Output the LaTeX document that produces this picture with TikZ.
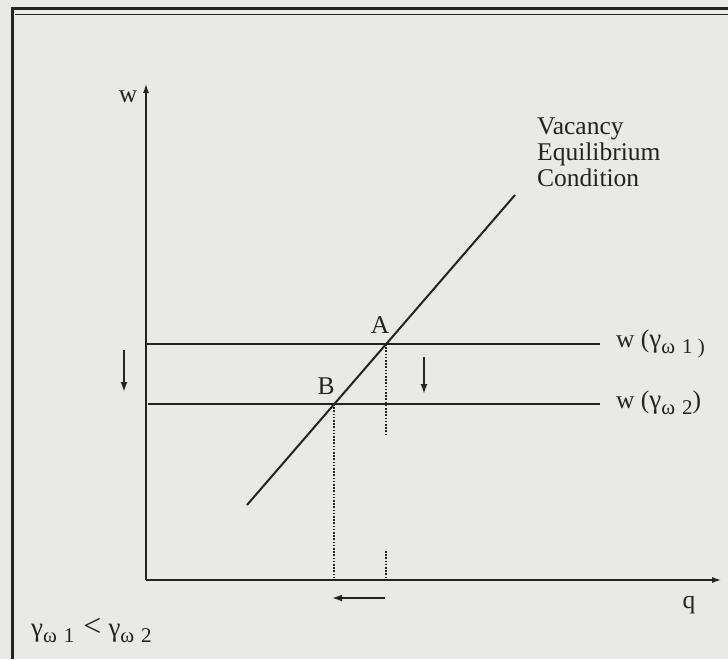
\documentclass[tikz,border=0pt]{standalone}
\usepackage{fontspec}
\setmainfont{Liberation Serif}
\usepackage{tikz}
\usetikzlibrary{arrows.meta, positioning, calc}
\definecolor{paper}{RGB}{233, 233, 231}
\definecolor{ink}{RGB}{35, 35, 35}
\newcommand{\gw}[1]{{\fontsize{27}{27}\selectfont γ}\raisebox{-0.5ex}{\fontsize{21}{21}\selectfont ω\,\,#1}}

\begin{document}
\begin{tikzpicture}[x=1pt, y=-1pt, font=\fontsize{25.5}{26}\selectfont,
    curve/.style={draw=ink, line width=2pt},
    axis/.style={draw=ink, line width=2pt, -{Latex[length=10pt,width=6pt]}},
    guide/.style={draw=ink, line width=1.8pt, dash pattern=on 1.6pt off 1.6pt},
    shiftarrow/.style={draw=ink, line width=1.8pt, -{Latex[length=10pt,width=7pt]}},
    lab/.style={text=ink, inner sep=1pt}]
        \useasboundingbox[fill=paper] (0,0) rectangle (728,659);
        % frame
        \draw[ink, line width=3pt] (12,659) -- (12,8) -- (728,8);
        \draw[ink, line width=1pt] (15,14) -- (728,14);
        % axes
        \coordinate (O) at (146,580);
        \coordinate (ytop) at (146,83);
        \coordinate (xend) at (722,580);
        \draw[axis] (O) -- (ytop);
        \draw[axis] (O) -- (xend);
        \node[lab] (wlab) at (128,97) {w};
        \node[lab] (qlab) at (689,605) {q};
        % vacancy equilibrium condition
        \coordinate (vlo) at (247,505);
        \coordinate (vhi) at (515,195);
        \draw[curve] (vlo) -- (vhi);
        \node[lab, align=left, anchor=north west] (vec) at (536,117) {Vacancy\\Equilibrium\\Condition};
        % wage lines
        \coordinate (A) at (386,344);
        \coordinate (B) at (334,404);
        \coordinate (w1l) at (146,344);
        \coordinate (w1r) at (600,344);
        \coordinate (w2l) at (148,404);
        \coordinate (w2r) at (600,404);
        \draw[curve] (w1l) -- (w1r);
        \draw[curve] (w2l) -- (w2r);
        \node[lab, anchor=west] (w1) at (615,344) {w (\gw{1 )}};
        \node[lab, anchor=west] (w2) at (615,403) {w (\gw{2})};
        \node[lab] (Alab) at (380,325) {A};
        \node[lab] (Blab) at (326,386) {B};
        % dotted drops
        \coordinate (Agap) at (386,436);
        \coordinate (Arest) at (386,551);
        \coordinate (Aq) at (386,580);
        \coordinate (Bq) at (334,580);
        \draw[guide] (A) -- (Agap);
        \draw[guide] (Arest) -- (Aq);
        \draw[guide] (B) -- (Bq);
        % shifts
        \coordinate (s1a) at (124,350);
        \coordinate (s1b) at (124,392);
        \coordinate (s2a) at (424,357);
        \coordinate (s2b) at (424,394);
        \coordinate (s3a) at (385,598);
        \coordinate (s3b) at (332,598);
        \draw[shiftarrow] (s1a) -- (s1b);
        \draw[shiftarrow] (s2a) -- (s2b);
        \draw[shiftarrow] (s3a) -- (s3b);
        \node[lab, anchor=west] (cmp) at (30,630) {\gw{1}\hspace{9pt}{\fontsize{32}{32}\selectfont <}\hspace{7pt}\gw{2}};
    \end{tikzpicture}
\end{document}
